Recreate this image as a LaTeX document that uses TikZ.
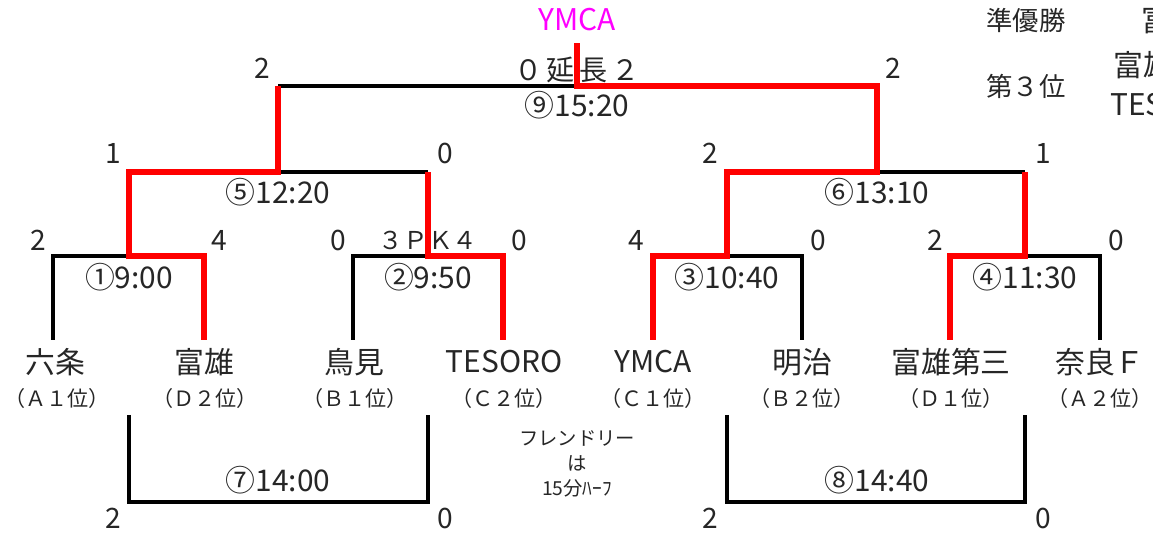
\documentclass[tikz,border=0pt]{standalone}
\usepackage{fontspec}
\setmainfont{Noto Sans CJK JP}
\usepackage{xcolor}
\usetikzlibrary{positioning}
\definecolor{ymcapink}{RGB}{255,0,255}
\definecolor{winred}{RGB}{255,0,0}

\begin{document}
\begin{tikzpicture}[x=0.02cm, y=-0.02cm,
  win/.style={winred, line width=3.1pt},
  lose/.style={black, line width=1.9pt},
  team/.style={inner sep=0pt, text=black!85, font=\fontsize{17pt}{20pt}\selectfont},
  rank/.style={inner sep=0pt, text=black!85, font=\fontsize{12pt}{14pt}\selectfont},
  score/.style={inner sep=0pt, text=black!85, font=\fontsize{16pt}{18pt}\selectfont},
  slot/.style={inner sep=0pt, text=black!85, font=\fontsize{17pt}{20pt}\selectfont},
  note/.style={inner sep=0pt, text=black!85, font=\fontsize{11pt}{13pt}\selectfont}]
\useasboundingbox (0,0) rectangle (1153,533);
\clip (0,0) rectangle (1153,533);

% Teams
\node[team] (rokujo) at (55,362) {六条};
\node[team] (tomio) at (204,362) {富雄};
\node[team] (tomi) at (354,362) {鳥見};
\node[team] (tesoro) at (504,362) {TESORO};
\node[team] (ymca) at (653,362) {YMCA};
\node[team] (meiji) at (802,362) {明治};
\node[team] (tomio3) at (951,362) {富雄第三};
\node[team] (naraf) at (1100,362) {奈良Ｆ};

\node[rank] (rk1) at (57,398) {（Ａ１位）};
\node[rank] (rk2) at (205,398) {（Ｄ２位）};
\node[rank] (rk3) at (355,398) {（Ｂ１位）};
\node[rank] (rk4) at (504,398) {（Ｃ２位）};
\node[rank] (rk5) at (653,398) {（Ｃ１位）};
\node[rank] (rk6) at (802,398) {（Ｂ２位）};
\node[rank] (rk7) at (951,398) {（Ｄ１位）};
\node[rank] (rk8) at (1100,398) {（Ａ２位）};

% Line ends and junctions
\coordinate (t1) at (53,340);
\coordinate (t2) at (204,340);
\coordinate (t3) at (353,340);
\coordinate (t4) at (503,340);
\coordinate (t5) at (653,340);
\coordinate (t6) at (802,340);
\coordinate (t7) at (950,340);
\coordinate (t8) at (1100,340);
\coordinate (m1) at (129,256);
\coordinate (m2) at (428,256);
\coordinate (m3) at (727,256);
\coordinate (m4) at (1025,256);
\coordinate (m5) at (278,172);
\coordinate (m6) at (877,172);
\coordinate (m9) at (577,86);
\coordinate (champ) at (577,43);

% Losing lines
\draw[lose] (t1) |- (m1);
\draw[lose] (t3) |- (m2);
\draw[lose] (t6) |- (m3);
\draw[lose] (t8) |- (m4);
\draw[lose] (m5) -- (m2 |- m5);
\draw[lose] (m6) -- (m4 |- m6);
\draw[lose] (m5 |- m9) -- (m9);

% Winning lines
\draw[win] (t2) |- (m1) |- (m5) -- (m5 |- m9);
\draw[win] (t4) |- (m2) -- (m2 |- m5);
\draw[win] (t5) |- (m3) |- (m6) |- (m9) -- (champ);
\draw[win] (t7) |- (m4) -- (m4 |- m6);

% Play-off lines
\coordinate (b7l) at (129,415);
\coordinate (b7r) at (428,415);
\coordinate (b8l) at (727,415);
\coordinate (b8r) at (1025,415);
\coordinate (m7) at (278,502);
\coordinate (m8) at (877,502);
\draw[lose] (b7l) |- (m7) -| (b7r);
\draw[lose] (b8l) |- (m8) -| (b8r);

% Match slots
\node[slot] (g1) at (129,277) {①9:00};
\node[slot] (g2) at (428,277) {②9:50};
\node[slot] (g3) at (727,277) {③10:40};
\node[slot] (g4) at (1025,277) {④11:30};
\node[slot] (g5) at (278,192) {⑤12:20};
\node[slot] (g6) at (877,192) {⑥13:10};
\node[slot] (g7) at (278,480) {⑦14:00};
\node[slot] (g8) at (877,480) {⑧14:40};
\node[slot] (g9) at (577,105) {⑨15:20};

% Scores
\node[score] (s1a) at (38,240) {2};
\node[score] (s1b) at (219,240) {4};
\node[score] (s2a) at (338,240) {0};
\node[score] (pk2) at (428,240) {\fontsize{14pt}{16pt}\selectfont ３ＰＫ４};
\node[score] (s2b) at (519,240) {0};
\node[score] (s3a) at (636,240) {4};
\node[score] (s3b) at (818,240) {0};
\node[score] (s4a) at (935,240) {2};
\node[score] (s4b) at (1116,240) {0};
\node[score] (s5a) at (113,153) {1};
\node[score] (s5b) at (445,153) {0};
\node[score] (s6a) at (710,153) {2};
\node[score] (s6b) at (1043,153) {1};
\node[score] (s9a) at (262,68) {2};
\node[score] (et9) at (577,70) {０\hspace{2.5pt}延\hspace{2.5pt}長\hspace{2.5pt}２};
\node[score] (s9b) at (893,68) {2};
\node[score] (s7a) at (113,518) {2};
\node[score] (s7b) at (445,518) {0};
\node[score] (s8a) at (710,518) {2};
\node[score] (s8b) at (1043,518) {0};

% Champion and places
\node[team, text=ymcapink] (winner) at (577,20) {YMCA};
\node[note, font=\fontsize{15pt}{17pt}\selectfont] (second) at (1026,20) {準優勝};
\node[note, font=\fontsize{15pt}{17pt}\selectfont] (third) at (1026,86) {第３位};
\node[team, anchor=west] (secondteam) at (1141,20) {富雄};
\node[team, anchor=west] (thirdteam1) at (1113,65) {富雄第三};
\node[team, anchor=west] (thirdteam2) at (1110,105) {TESORO};

% Friendly note
\node[note] (fr1) at (577,438) {フレンドリー};
\node[note] (fr2) at (577,463) {は};
\node[note] (fr3) at (577,488) {15分ﾊｰﾌ};
\end{tikzpicture}
\end{document}
